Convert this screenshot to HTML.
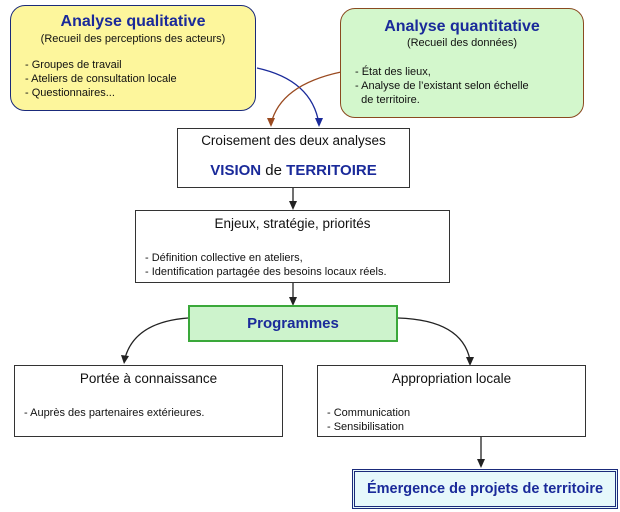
<!DOCTYPE html>
<html><head><meta charset="utf-8"><style>
body{margin:0;width:620px;height:512px;background:#fff;position:relative;font-family:"Liberation Sans",sans-serif;overflow:hidden}
.b{position:absolute;box-sizing:border-box;color:#111;white-space:nowrap}
.t{font-size:13.5px;text-align:center}
.s{font-size:11px;line-height:14px}
.bl{color:#1a2a9a;font-weight:bold}
</style></head><body>
<svg width="620" height="512" style="position:absolute;left:0;top:0">
<path d="M257,68 Q312,80 319,124" fill="none" stroke="#1a2a9a" stroke-width="1.3"/>
<path d="M315,118 L319,127 L323,118Z" fill="#1a2a9a"/>
<path d="M341,72 Q280,85 271,124" fill="none" stroke="#9a4a20" stroke-width="1.3"/>
<path d="M267,118 L271,127 L275,118Z" fill="#9a4a20"/>
<g stroke="#222" stroke-width="1.3" fill="none">
<path d="M293,187 V206"/><path d="M293,283 V302"/>
<path d="M188,318 Q135,322 125,358"/><path d="M398,318 Q462,320 470,360"/>
<path d="M481,437 V464"/>
</g>
<g fill="#222">
<path d="M289,201 L293,210 L297,201Z"/><path d="M289,297 L293,306 L297,297Z"/>
<path d="M121,355 L124,364 L129,356Z"/><path d="M466,357 L470,366 L474,357Z"/>
<path d="M477,459 L481,468 L485,459Z"/>
</g>
</svg>
<div class="b" style="left:10px;top:5px;width:246px;height:106px;background:#fdf69c;border:1.5px solid #1a2a7a;border-radius:15px">
<div class="bl" style="text-align:center;font-size:16px;margin-top:7px">Analyse qualitative</div>
<div class="s" style="text-align:center;margin-top:1px">(Recueil des perceptions des acteurs)</div>
<div class="s" style="margin:12px 0 0 14px">- Groupes de travail<br>- Ateliers de consultation locale<br>- Questionnaires...</div></div>
<div class="b" style="left:340px;top:8px;width:244px;height:110px;background:#d3f7cc;border:1.5px solid #8a4a20;border-radius:15px">
<div class="bl" style="text-align:center;font-size:16px;margin-top:9px">Analyse quantitative</div>
<div class="s" style="text-align:center">(Recueil des données)</div>
<div class="s" style="margin:15px 0 0 14px">- État des lieux,<br>- Analyse de l’existant selon échelle<br>&nbsp;&nbsp;de territoire.</div></div>
<div class="b" style="left:177px;top:128px;width:233px;height:60px;border:1.3px solid #333">
<div class="t" style="margin-top:4px">Croisement des deux analyses</div>
<div class="bl" style="text-align:center;font-size:15px;margin-top:14px">VISION <span style="color:#111;font-weight:normal">de</span> TERRITOIRE</div></div>
<div class="b" style="left:135px;top:210px;width:315px;height:73px;border:1.3px solid #333">
<div class="t" style="margin-top:5px">Enjeux, stratégie, priorités</div>
<div class="s" style="margin:20px 0 0 9px">- Définition collective en ateliers,<br>- Identification partagée des besoins locaux réels.</div></div>
<div class="b bl" style="left:188px;top:305px;width:210px;height:37px;background:#cdf3cc;border:2px solid #3aa83a;text-align:center;font-size:15px;line-height:33px">Programmes</div>
<div class="b" style="left:14px;top:365px;width:269px;height:72px;border:1.3px solid #333">
<div class="t" style="margin-top:5px">Portée à connaissance</div>
<div class="s" style="margin:20px 0 0 9px">- Auprès des partenaires extérieures.</div></div>
<div class="b" style="left:317px;top:365px;width:269px;height:72px;border:1.3px solid #333">
<div class="t" style="margin-top:5px">Appropriation locale</div>
<div class="s" style="margin:20px 0 0 9px">- Communication<br>- Sensibilisation</div></div>
<div class="b bl" style="left:352px;top:469px;width:266px;height:40px;background:#e6f8fb;border:3px double #1a2a7a;text-align:center;font-size:14.5px;line-height:34px">Émergence de projets de territoire</div>
</body></html>
